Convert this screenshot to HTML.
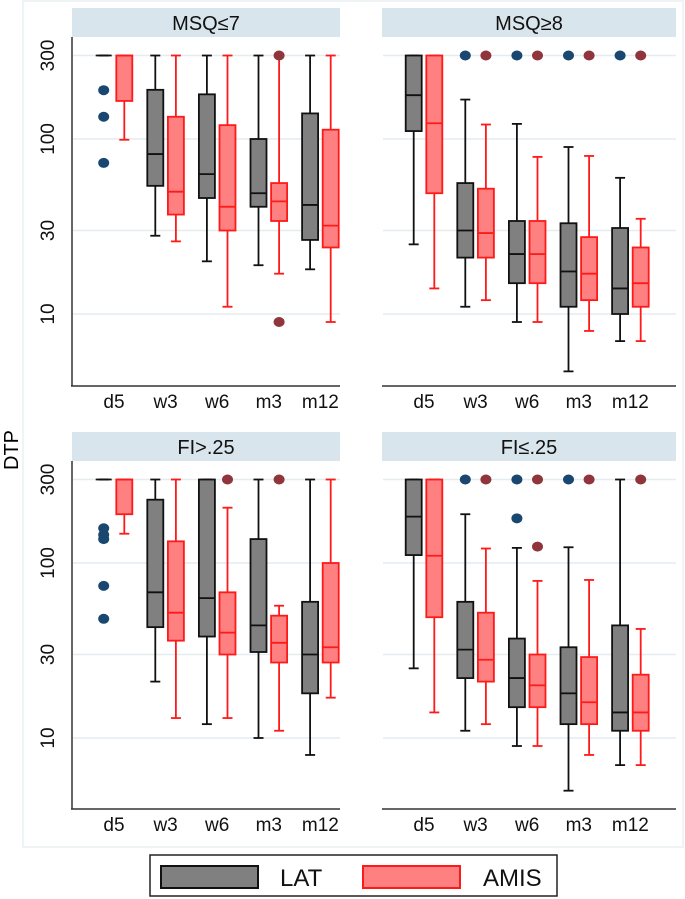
<!DOCTYPE html>
<html><head><meta charset="utf-8"><style>
html,body{margin:0;padding:0;background:#fff;}
svg{display:block;font-family:"Liberation Sans",sans-serif;}
</style></head><body>
<svg id="chart" width="685" height="899" viewBox="0 0 685 899"></svg>
<script>
const categories = ["d5","w3","w6","m3","m12"];
const panelTitles = ["MSQ\u22647","MSQ\u22658","FI>.25","FI\u2264.25"];
const yTicks = [10,30,100,300];
const yTickLabels = ["10","30","100","300"];
// [low, q1, median, q3, high]
const latMSQ7  = [[300,300,300,300,300],[28,54,82,191,300],[20,46,63,180,300],[19,41,49,100,300],[18,26.5,42,140,300]];
const amisMSQ7 = [[99,165,300,300,300],[26,37,50,134,300],[11,30,41,120,300],[17,34,44,56,300],[9,24,32,113,300]];
const latMSQ8  = [[25,111,178,300,300],[11,21,30,56,168],[9,15,22,34,122],[4.7,11,17.5,33,90],[7,10,14,31,60]];
const amisMSQ8 = [[14,49,123,300,300],[12,21,29,52,121],[9,15,22,34,79],[8,12,17,27.5,80],[7,11,15,24,35]];
const latFIhi  = [[300,300,300,300,300],[21,43,68,230,300],[12,38,63,300,300],[10,31,44,137,300],[8,18,30,60,300]];
const amisFIhi = [[147,190,300,300,300],[13,36,52,133,300],[13,30,40,68,207],[11,27,35,50,57],[17,27,33,100,300]];
const latFIlo  = [[25,111,184,300,300],[11,22,32,60,190],[9,15,22,37,122],[5,12,18,33,123],[7,11,14,44,300]];
const amisFIlo = [[14,49,110,300,300],[12,21,28,52,121],[9,15,20,30,79],[8,12,16,29,80],[7,11,14,23,42]];
// outliers: [categoryIndex, value]
const latOutMSQ7  = [[0,190],[0,134],[0,73]];
const amisOutMSQ7 = [[3,300],[3,9]];
const latOutMSQ8  = [[1,300],[2,300],[3,300],[4,300]];
const amisOutMSQ8 = [[1,300],[2,300],[3,300],[4,300]];
const latOutFIhi  = [[0,158],[0,145],[0,137],[0,74],[0,48]];
const amisOutFIhi = [[2,300],[3,300]];
const latOutFIlo  = [[1,300],[2,300],[2,180],[3,300]];
const amisOutFIlo = [[1,300],[2,300],[2,124],[3,300],[4,300]];

const panelLat = [latMSQ7,latMSQ8,latFIhi,latFIlo];
const panelAmis = [amisMSQ7,amisMSQ8,amisFIhi,amisFIlo];
const panelLatOut = [latOutMSQ7,latOutMSQ8,latOutFIhi,latOutFIlo];
const panelAmisOut = [amisOutMSQ7,amisOutMSQ8,amisOutFIhi,amisOutFIlo];

const svg = document.getElementById('chart');
const NS = 'http://www.w3.org/2000/svg';
function mk(tag, attrs, parent){
  const e = document.createElementNS(NS, tag);
  for (const k in attrs) e.setAttribute(k, attrs[k]);
  (parent||svg).appendChild(e);
  return e;
}
const panelX0 = [72, 382, 72, 382];
const panelX1 = [340, 676, 340, 676];
const headerY = [8, 8, 432, 432];
const y100 = [139, 139, 563, 563];
const axisY = [386, 386, 809, 809];
const decade = 175;
function yScale(p, v){ return y100[p] - decade*Math.log10(v/100); }
function xCat(p, i){ return panelX0[p] + 42 + i*51.6; }
const half = 10.3, bw = 8;

const frame = mk('rect',{x:23,y:1,width:660,height:846,fill:'none',stroke:'#eaf0f3','stroke-width':1.5});



const yt = mk('text',{x:0,y:0,'font-size':20,fill:'#000','text-anchor':'middle',transform:'translate(18,450) rotate(-90)'});
yt.textContent = 'DTP';



for (let p=0;p<4;p++){
  const g = mk('g',{});
  
  
  const hr = mk('rect',{x:panelX0[p],y:headerY[p],width:panelX1[p]-panelX0[p],height:29,fill:'#d9e5ec'},g);
  
  
  const ht = mk('text',{x:(panelX0[p]+panelX1[p])/2,y:headerY[p]+22,'font-size':20,'text-anchor':'middle',fill:'#111'},g);
  ht.textContent = panelTitles[p];
  
  
  yTicks.forEach((t,k)=>{
    const y = yScale(p,t);
    const gl = mk('line',{x1:panelX0[p]+1,x2:panelX1[p],y1:y,y2:y,stroke:'#e4ecf0','stroke-width':1.5},g);
    
    
    if (p%2===0){
      const tl = mk('text',{x:0,y:0,'font-size':19,'text-anchor':'middle',fill:'#111',transform:`translate(${panelX0[p]-18},${y}) rotate(-90)`},g);
      tl.textContent = yTickLabels[k];
      
      
    }
  });
  const xa = mk('line',{x1:panelX0[p]-(p%2===0?1:0),x2:panelX1[p],y1:axisY[p],y2:axisY[p],stroke:'#333','stroke-width':1.5},g);
  
  
  if (p%2===0){
    const ya = mk('line',{x1:panelX0[p],x2:panelX0[p],y1:headerY[p]+29,y2:axisY[p],stroke:'#333','stroke-width':1.5},g);
    
    
  }
  categories.forEach((c,i)=>{
    const xl = mk('text',{x:xCat(p,i),y:axisY[p]+22,'font-size':19,'text-anchor':'middle',fill:'#111'},g);
    xl.textContent = c;
    
    
  });
  [[panelLat[p],-half,'#808080','#111','lat'],[panelAmis[p],half,'#ff8080','#ff1a1a','amis']].forEach(([data,off,fill,stroke,nm])=>{
    data.forEach((s,i)=>{
      const cx = xCat(p,i)+off;
      const [lo,q1,md,q3,hi] = s.map(v=>yScale(p,v));
      const bg = mk('g',{},g);
      
      
      mk('line',{x1:cx,x2:cx,y1:hi,y2:q3,stroke:stroke,'stroke-width':1.8},bg);
      mk('line',{x1:cx,x2:cx,y1:q1,y2:lo,stroke:stroke,'stroke-width':1.8},bg);
      mk('line',{x1:cx-5,x2:cx+5,y1:hi,y2:hi,stroke:stroke,'stroke-width':1.8},bg);
      mk('line',{x1:cx-5,x2:cx+5,y1:lo,y2:lo,stroke:stroke,'stroke-width':1.8},bg);
      if (q1-q3>0.5) mk('rect',{x:cx-bw,y:q3,width:2*bw,height:q1-q3,fill:fill,stroke:stroke,'stroke-width':1.8},bg);
      mk('line',{x1:cx-bw,x2:cx+bw,y1:md,y2:md,stroke:stroke,'stroke-width':1.8},bg);
    });
  });
  [[panelLatOut[p],-half,'#1a476f','lat'],[panelAmisOut[p],half,'#90353b','amis']].forEach(([pts,off,col,nm])=>{
    pts.forEach(([i,v])=>{
      const c = mk('ellipse',{cx:xCat(p,i)+off,cy:yScale(p,v),rx:5.5,ry:5,fill:col},g);
      
      
    });
  });
}
const lg = mk('g',{});


mk('rect',{x:150,y:855,width:407,height:41,fill:'#fff',stroke:'#222','stroke-width':1.5},lg);
const e1 = mk('g',{},lg);


mk('rect',{x:161,y:866,width:97,height:22,fill:'#808080',stroke:'#111','stroke-width':2},e1);
const t1 = mk('text',{x:280,y:886,'font-size':24,fill:'#111'},e1); t1.textContent='LAT';
const e2 = mk('g',{},lg);


mk('rect',{x:363,y:866,width:97,height:22,fill:'#ff8080',stroke:'#ff1a1a','stroke-width':2},e2);
const t2 = mk('text',{x:483,y:886,'font-size':24,fill:'#111'},e2); t2.textContent='AMIS';
</script>
</body></html>
